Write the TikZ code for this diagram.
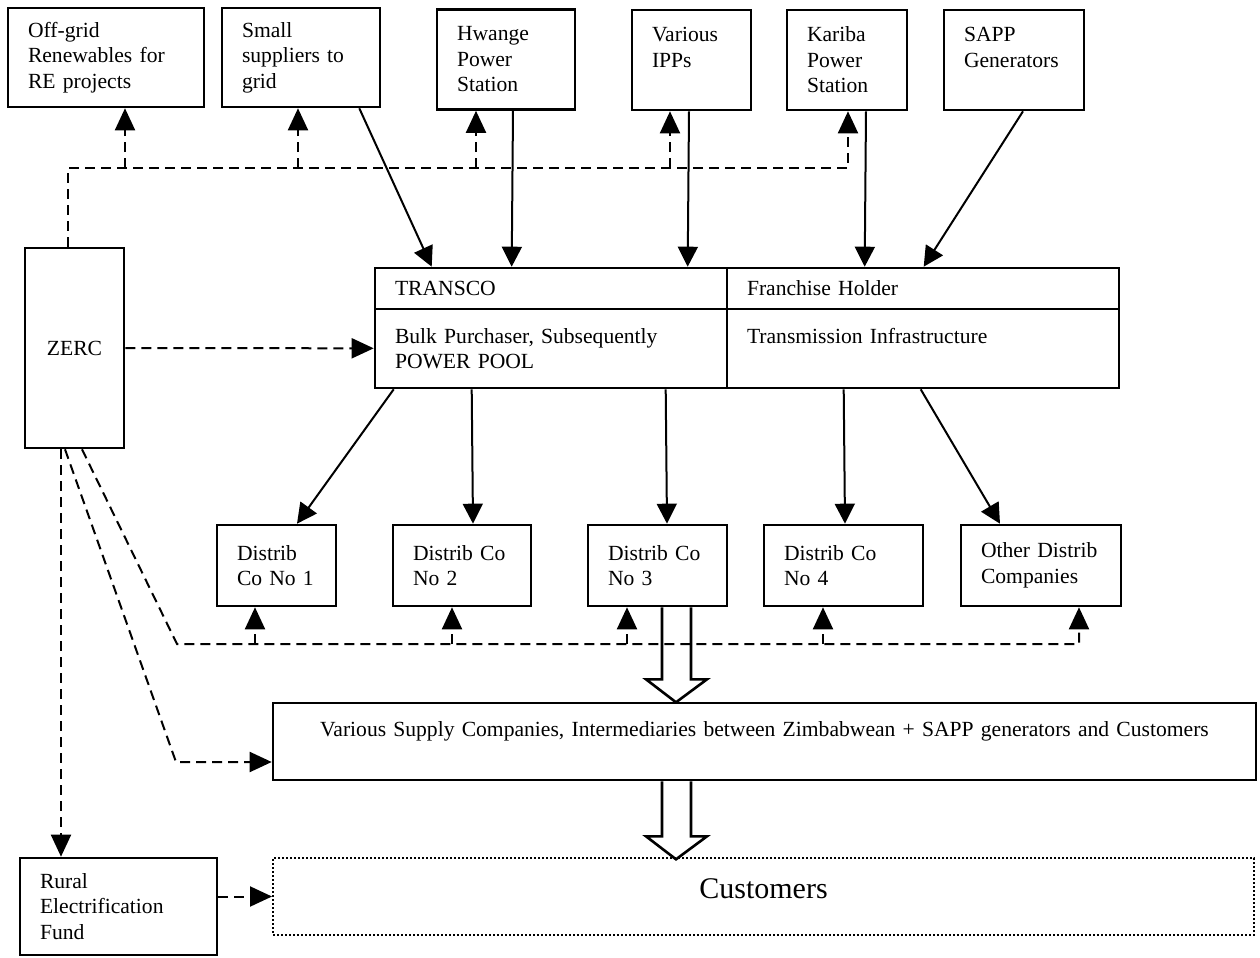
\documentclass[tikz,border=0pt]{standalone}
\usepackage{fontspec}
\setmainfont{Liberation Serif}
\usetikzlibrary{arrows.meta}

\begin{document}
\begin{tikzpicture}[x=0.5pt, y=-0.5pt,
        block/.style={draw, line width=1.3pt, inner xsep=10pt, inner ysep=3pt, align=left, font=\fontsize{10.8}{12.75}\selectfont},
        feed/.style={line width=1pt, -{Triangle[length=10pt,width=10pt]}},
        reg/.style={line width=1pt, dash pattern=on 5pt off 3pt, -{Triangle[length=11pt,width=10pt]}},
        bigarrow/.style={line width=1.3pt}]
        \useasboundingbox (0,0) rectangle (1260,958);

        \node[block, text width=78pt, minimum height=49.5pt] (OffGrid) at (106,57.5) {Off-grid\\Renewables for\\RE projects};
        \node[block, text width=59pt, minimum height=49.5pt] (Small) at (301,57.5) {Small\\suppliers to\\grid};
        \node[block, text width=49pt, minimum height=50pt] (Hwange) at (506,59.5) {Hwange\\Power\\Station};
        \node[block, text width=39.5pt, minimum height=50pt] (IPPs) at (691.5,60) {Various\\IPPs\\\mbox{}};
        \node[block, text width=40pt, minimum height=50pt] (Kariba) at (847,60) {Kariba\\Power\\Station};
        \node[block, text width=50pt, minimum height=50pt] (SAPP) at (1014,60) {SAPP\\Generators\\\mbox{}};

        \node[block, text width=29.5pt, minimum height=100pt, align=center] (ZERC) at (74.5,348) {ZERC};

        \node[block, text width=156pt, minimum height=20.5pt, inner ysep=1pt] (Transco) at (551,288.5) {\raisebox{-5pt}{TRANSCO}};
        \node[block, text width=176pt, minimum height=20.5pt, inner ysep=1pt] (Franchise) at (923,288.5) {\raisebox{-5pt}{Franchise Holder}};
        \node[block, text width=156pt, minimum height=39.5pt] (Bulk) at (551,348.5) {Bulk Purchaser, Subsequently\\POWER POOL};
        \node[block, text width=176pt, minimum height=39.5pt] (Infra) at (923,348.5) {Transmission Infrastructure\\\mbox{}};

        \node[block, text width=39.5pt, minimum height=40.5pt] (D1) at (276.5,565.5) {Distrib\\Co No 1};
        \node[block, text width=49pt, minimum height=40.5pt] (D2) at (462,565.5) {Distrib Co\\No 2};
        \node[block, text width=49.5pt, minimum height=40.5pt] (D3) at (657.5,565.5) {Distrib Co\\No 3};
        \node[block, text width=59.5pt, minimum height=40.5pt] (D4) at (843.5,565.5) {Distrib Co\\No 4};
        \node[block, text width=60pt, minimum height=40.5pt] (Other) at (1041,565.5) {Other Distrib\\Companies};

        \node[block, text width=471.5pt, minimum height=38.5pt, align=center] (Supply) at (764.5,741.5) {Various Supply Companies, Intermediaries between Zimbabwean + SAPP generators and Customers\\\mbox{}};
        \node[block, text width=470.5pt, minimum height=38.5pt, align=center, line width=1pt, dash pattern=on 1pt off 1pt, font=\fontsize{15}{18}\selectfont] (Customers) at (763.5,896.5) {\raisebox{8pt}{Customers}};
        \node[block, text width=78.5pt, minimum height=48.5pt] (Rural) at (118.5,906.5) {Rural\\Electrification\\Fund};

        \coordinate (BusTL) at (68,168);
        \coordinate (BusTR) at (848,168);
        \coordinate (TapOffGrid) at (125,168);
        \coordinate (TapSmall) at (298,168);
        \coordinate (TapHwange) at (476,168);
        \coordinate (TapIPPs) at (670,168);
        \coordinate (BusBL) at (177,644);
        \coordinate (BusBR) at (1079,644);
        \coordinate (TapD1) at (255,644);
        \coordinate (TapD2) at (452,644);
        \coordinate (TapD3) at (627,644);
        \coordinate (TapD4) at (823,644);
        \coordinate (BendSupply) at (176,762);

        \draw[feed] ([xshift=-11pt]Small.south east) -- ([xshift=29pt]Transco.north west);
        \draw[feed] ([xshift=3.5pt]Hwange.south) -- ([xshift=69pt]Transco.north west);
        \draw[feed] ([xshift=-1.25pt]IPPs.south) -- ([xshift=157pt]Transco.north west);
        \draw[feed] ([xshift=9.5pt]Kariba.south) -- ([xshift=69.5pt]Franchise.north west);
        \draw[feed] ([xshift=4.5pt]SAPP.south) -- ([xshift=99pt]Franchise.north west);

        \draw[feed] ([xshift=10pt]Bulk.south west) -- ([xshift=10.25pt]D1.north);
        \draw[feed] ([xshift=49pt]Bulk.south west) -- ([xshift=5.5pt]D2.north);
        \draw[feed] ([xshift=146pt]Bulk.south west) -- ([xshift=4.75pt]D3.north);
        \draw[feed] ([xshift=59pt]Infra.south west) -- ([xshift=0.75pt]D4.north);
        \draw[feed] ([xshift=97.5pt]Infra.south west) -- ([xshift=-20.5pt]Other.north);

        \draw[reg] (ZERC.north -| BusTL) -- (BusTL) -- (BusTR) -- (BusTR |- Kariba.south);
        \draw[reg] (TapOffGrid) -- (TapOffGrid |- OffGrid.south);
        \draw[reg] (TapSmall) -- (TapSmall |- Small.south);
        \draw[reg] (TapHwange) -- (TapHwange |- Hwange.south);
        \draw[reg] (TapIPPs) -- (TapIPPs |- IPPs.south);
        \draw[reg] (ZERC) -- (Bulk);

        \draw[reg] ([xshift=3.75pt]ZERC.south) -- (BusBL) -- (BusBR) -- (BusBR |- Other.south);
        \draw[reg] (TapD1) -- (TapD1 |- D1.south);
        \draw[reg] (TapD2) -- (TapD2 |- D2.south);
        \draw[reg] (TapD3) -- (TapD3 |- D3.south);
        \draw[reg] (TapD4) -- (TapD4 |- D4.south);
        \draw[reg] ([xshift=-4.75pt]ZERC.south) -- (BendSupply) -- (BendSupply -| Supply.west);
        \draw[reg] ([xshift=-6.75pt]ZERC.south) -- ([xshift=-28.75pt]Rural.north);
        \draw[reg] (Customers.west -| Rural.east) -- (Customers.west);

        \draw[bigarrow] ([xshift=2.25pt]D3.south) -- ++(0,72) -- ++(-16,0) -- ++(30,23) -- ++(31,-23) -- ++(-16,0) -- ++(0,-72);
        \draw[bigarrow] ([xshift=-51.25pt]Supply.south) -- ++(0,55) -- ++(-16,0) -- ++(30,23) -- ++(31,-23) -- ++(-16,0) -- ++(0,-55);
    \end{tikzpicture}
\end{document}
